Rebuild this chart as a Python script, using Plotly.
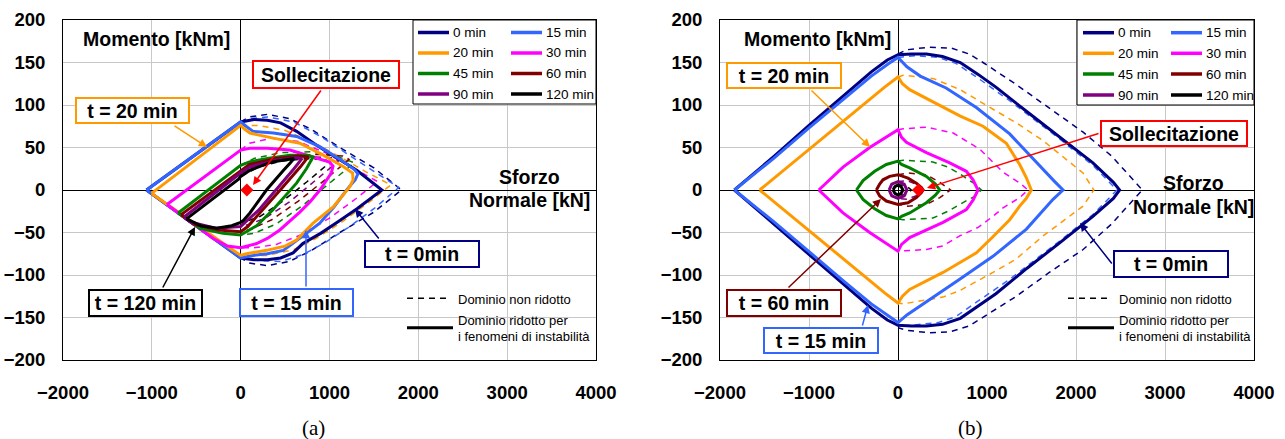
import plotly.graph_objects as go

# ------------------------------------------------------------------
# Interaction domains N [kN] - M [kNm] for several fire exposure times
# ------------------------------------------------------------------
TIME_LABELS = ["0 min", "15 min", "20 min", "30 min", "45 min", "60 min", "90 min", "120 min"]

# ---- (a) reduced domains (solid) ----
A_RED_0 = [(-1060, 0), (0, 80), (150, 83), (300, 82), (450, 79), (630, 69), (850, 53), (1100, 37), (1310, 23),
           (1590, 0), (1310, -22), (1100, -37), (900, -51), (700, -63), (590, -74), (450, -80), (300, -82),
           (150, -82), (0, -80), (-1060, 0)]
A_RED_15 = [(-1060, 0), (0, 80), (60, 75), (140, 69), (370, 67), (630, 63), (890, 51), (1120, 36), (1280, 24),
            (1320, 19), (1290, 12), (1200, 1), (1050, -20), (890, -39), (740, -51), (600, -62), (480, -71),
            (300, -75), (140, -77), (0, -80), (-1060, 0)]
A_RED_20 = [(-1003, -4), (0, 76), (40, 72), (104, 67), (366, 61), (666, 55), (929, 41), (1150, 28), (1260, 20),
            (1265, 12), (1229, 4), (1042, -20), (816, -39), (629, -59), (500, -66), (291, -71), (66, -75),
            (0, -77), (-1003, -4)]
A_RED_30 = [(-830, -17), (0, 47), (104, 49), (300, 49), (554, 47), (854, 38), (1000, 33), (1040, 28), (1020, 20),
            (892, 0), (780, -14), (666, -26), (441, -47), (300, -57), (179, -63), (0, -68), (-150, -66),
            (-309, -57), (-830, -17)]
A_RED_45 = [(-704, -27), (0, 29), (100, 33), (300, 37), (554, 41), (750, 41), (816, 39), (740, 25), (629, 8),
            (366, -23), (180, -42), (104, -47), (0, -53), (-200, -51), (-459, -45), (-704, -27)]
A_RED_60 = [(-670, -29), (0, 23), (100, 30), (400, 37), (650, 40), (760, 39), (670, 27), (470, 3), (260, -22),
            (80, -43), (0, -49), (-250, -47), (-530, -40), (-670, -29)]
A_RED_90 = [(-640, -32), (0, 20), (100, 27), (400, 35), (620, 38), (690, 37), (600, 25), (400, 0), (200, -24),
            (50, -38), (0, -43), (-280, -45), (-560, -38), (-640, -32)]
A_RED_120 = [(-610, -34), (-20, 13), (0, 16), (100, 23), (350, 33), (520, 36), (600, 37), (560, 32), (480, 23),
             (290, 0), (104, -27), (30, -36), (0, -38), (-100, -42), (-270, -45), (-450, -42), (-610, -34)]

# ---- (a) non-reduced domains (dashed, compression side) ----
A_FULL_0 = [(0, 80), (100, 86), (300, 89), (550, 84), (800, 71), (1100, 51), (1500, 26), (1810, 0), (1500, -26),
            (1100, -51), (800, -71), (550, -84), (300, -89), (100, -86), (0, -80)]
A_FULL_15 = [(0, 80), (100, 84), (300, 86), (600, 80), (900, 63), (1200, 43), (1500, 22), (1780, 3), (1500, -22),
             (1200, -45), (950, -62), (700, -76), (450, -84), (200, -83), (0, -80)]
A_FULL_20 = [(0, 76), (200, 76), (500, 70), (800, 57), (1100, 40), (1400, 22), (1690, 6), (1450, -14), (1150, -37),
             (850, -57), (600, -70), (300, -77), (0, -77)]
A_FULL_30 = [(0, 47), (100, 55), (350, 61), (650, 57), (950, 44), (1250, 27), (1540, 10), (1300, -10), (1000, -33),
             (700, -52), (400, -64), (150, -68), (0, -68)]
A_FULL_45 = [(0, 29), (150, 37), (450, 44), (800, 45), (1100, 39), (1280, 32), (1000, 8), (700, -18), (400, -40),
             (150, -51), (0, -53)]
A_FULL_60 = [(0, 23), (200, 33), (500, 39), (850, 42), (1150, 40), (1220, 36), (950, 12), (650, -13), (350, -35),
             (120, -46), (0, -49)]
A_FULL_90 = [(0, 20), (200, 30), (500, 36), (800, 39), (1050, 38), (1100, 34), (850, 12), (550, -14), (280, -33),
             (80, -41), (0, -43)]
A_FULL_120 = [(0, 16), (200, 27), (450, 34), (750, 37), (950, 36), (1000, 32), (750, 10), (450, -15), (220, -31),
              (60, -37), (0, -38)]

# ---- (b) reduced domains (solid) ----
B_RED_0 = [(-1838, 0), (-1400, 39), (-1000, 76), (-600, 112), (-300, 139), (-120, 153), (0, 159), (150, 160),
           (320, 160), (500, 157), (700, 150), (900, 136), (1100, 121), (1450, 92), (1820, 62), (2190, 32),
           (2420, 9), (2490, 0), (2420, -10), (2190, -31), (1820, -62), (1450, -92), (1100, -122), (900, -137),
           (700, -151), (500, -158), (320, -160), (150, -160), (0, -159), (-120, -153), (-300, -139),
           (-600, -112), (-1000, -76), (-1400, -39), (-1838, 0)]
B_RED_15 = [(-1838, 0), (-1400, 37), (-1000, 73), (-600, 108), (-300, 134), (-100, 149), (0, 156), (100, 145),
            (250, 134), (540, 120), (880, 97), (1255, 66), (1555, 32), (1750, 11), (1854, 0), (1742, -11),
            (1443, -46), (1067, -78), (693, -105), (319, -132), (100, -147), (0, -156), (-100, -149),
            (-300, -134), (-600, -108), (-1000, -73), (-1400, -37), (-1838, 0)]
B_RED_20 = [(-1554, 0), (-1000, 48), (-500, 91), (-150, 121), (0, 133), (50, 125), (131, 118), (393, 104),
            (581, 94), (700, 87), (955, 75), (1217, 55), (1367, 30), (1440, 15), (1498, 0), (1440, -10),
            (1367, -19), (1255, -35), (1067, -55), (881, -74), (506, -97), (131, -117), (50, -125), (0, -133),
            (-150, -121), (-500, -91), (-1000, -48), (-1554, 0)]
B_RED_30 = [(-890, 0), (-618, 27), (-318, 50), (-56, 68), (0, 71), (40, 62), (94, 56), (319, 44), (581, 32),
            (768, 22), (843, 12), (899, 0), (843, -12), (768, -23), (506, -38), (131, -56), (40, -64), (0, -72),
            (-56, -68), (-318, -50), (-618, -27), (-890, 0)]
B_RED_45 = [(-467, 0), (-393, 11), (-262, 22), (-131, 30), (0, 34), (40, 30), (131, 26), (319, 16), (420, 7),
            (468, 0), (420, -6), (319, -15), (131, -27), (40, -31), (0, -34), (-131, -30), (-262, -22),
            (-393, -11), (-467, 0)]
B_RED_60 = [(-243, 0), (-206, 7), (-169, 12), (-94, 16), (0, 18), (112, 14), (206, 8), (263, 3), (281, 0),
            (263, -3), (206, -9), (112, -15), (0, -17), (-131, -13), (-206, -7), (-243, 0)]
B_RED_90 = [(-100, 0), (-70, 7), (0, 10), (70, 7), (100, 0), (70, -7), (0, -10), (-70, -7), (-100, 0)]
B_RED_120 = [(-55, 0), (-35, 4), (0, 6), (35, 4), (55, 0), (35, -4), (0, -6), (-35, -4), (-55, 0)]

# ---- (b) non-reduced domains (dashed, compression side) ----
B_FULL_0 = [(0, 160), (100, 165), (350, 168), (600, 167), (800, 160), (955, 150), (1330, 124), (1700, 96),
            (2080, 68), (2400, 40), (2640, 12), (2746, 0), (2640, -12), (2400, -40), (2080, -70), (1700, -97),
            (1330, -125), (955, -150), (800, -160), (581, -167), (350, -168), (100, -165), (0, -162)]
B_FULL_15 = [(0, 156), (200, 158), (450, 156), (650, 149), (881, 133), (1255, 105), (1817, 60), (2200, 28),
             (2460, 0), (2200, -28), (1817, -60), (1255, -105), (881, -132), (650, -149), (450, -156),
             (200, -159), (56, -160), (0, -157)]
B_FULL_20 = [(0, 133), (60, 135), (400, 131), (700, 118), (1067, 95), (1330, 79), (1630, 58), (2079, 20),
             (2200, 0), (2079, -19), (1630, -54), (1330, -81), (1067, -97), (700, -118), (506, -126),
             (56, -134), (0, -133)]
B_FULL_30 = [(0, 71), (60, 72), (320, 74), (620, 67), (920, 48), (1070, 32), (1180, 21), (1370, 8), (1460, 0),
             (1367, -9), (1180, -21), (1067, -31), (900, -44), (693, -54), (500, -66), (319, -70), (56, -72),
             (0, -72)]
B_FULL_45 = [(0, 34), (60, 35), (390, 33), (560, 27), (693, 19), (850, 8), (937, 0), (850, -8), (693, -17),
             (560, -25), (393, -33), (56, -35), (0, -34)]
B_FULL_60 = [(0, 18), (112, 20), (319, 18), (470, 9), (590, 0), (470, -9), (319, -17), (112, -19), (0, -17)]
B_FULL_90 = [(0, 10), (100, 11), (200, 7), (260, 0), (200, -7), (100, -11), (0, -10)]
B_FULL_120 = [(0, 6), (80, 6), (150, 0), (80, -6), (0, -6)]

# design load ("Sollecitazione") for each section
LOAD_A = (70, 0)
LOAD_B = (230, 0)

A_RED = [A_RED_0, A_RED_15, A_RED_20, A_RED_30, A_RED_45, A_RED_60, A_RED_90, A_RED_120]
A_FULL = [A_FULL_0, A_FULL_15, A_FULL_20, A_FULL_30, A_FULL_45, A_FULL_60, A_FULL_90, A_FULL_120]
B_RED = [B_RED_0, B_RED_15, B_RED_20, B_RED_30, B_RED_45, B_RED_60, B_RED_90, B_RED_120]
B_FULL = [B_FULL_0, B_FULL_15, B_FULL_20, B_FULL_30, B_FULL_45, B_FULL_60, B_FULL_90, B_FULL_120]

# ---- styling ----
COLORS = ["#000080", "#3366FF", "#FF9900", "#FF00FF", "#008000", "#800000", "#800080", "#000000"]
FONT = "Liberation Sans, Arial, sans-serif"
W, H = 1285, 439


def px(x):
    return x / W


def py(y):
    return 1 - y / H


fig = go.Figure()

for xa, ya, red, full in (("x", "y", A_RED, A_FULL), ("x2", "y2", B_RED, B_FULL)):
    for pts, col in zip(full, COLORS):
        fig.add_trace(go.Scatter(x=[p[0] for p in pts], y=[p[1] for p in pts], mode="lines",
                                 line=dict(color=col, width=1.5, dash="6px,5px"),
                                 xaxis=xa, yaxis=ya, showlegend=False, hoverinfo="skip"))
    for pts, col, name in zip(red, COLORS, TIME_LABELS):
        fig.add_trace(go.Scatter(x=[p[0] for p in pts], y=[p[1] for p in pts], mode="lines", name=name,
                                 line=dict(color=col, width=3),
                                 xaxis=xa, yaxis=ya, showlegend=False))

for xa, ya, load in (("x", "y", LOAD_A), ("x2", "y2", LOAD_B)):
    fig.add_trace(go.Scatter(x=[load[0]], y=[load[1]], mode="markers", xaxis=xa, yaxis=ya,
                             marker=dict(symbol="diamond", size=10, color="#FF0000"), showlegend=False))

axis_common = dict(showgrid=True, gridcolor="#c8c8c8", gridwidth=1, automargin=False,
                   zeroline=True, zerolinecolor="black", zerolinewidth=1,
                   showline=True, linecolor="black", linewidth=1, mirror=True, ticks="",
                   tickfont=dict(family=FONT, size=18.5, color="black", weight="bold"))

xa_kw = dict(axis_common, range=[-2000, 4000], dtick=1000, tick0=0, ticklabelstandoff=16)
ya_kw = dict(axis_common, range=[-200, 200], dtick=50, tick0=0, ticklabelstandoff=13)

fig.update_layout(
    width=W, height=H, margin=dict(l=0, r=0, t=0, b=0, autoexpand=False),
    paper_bgcolor="white", plot_bgcolor="white",
    font=dict(family=FONT, color="black"),
    xaxis=dict(xa_kw, domain=[63 / W, 596 / W], anchor="y"),
    yaxis=dict(ya_kw, domain=[1 - 360 / H, 1 - 20 / H], anchor="x"),
    xaxis2=dict(xa_kw, domain=[720 / W, 1254 / W], anchor="y2"),
    yaxis2=dict(ya_kw, domain=[1 - 360 / H, 1 - 20 / H], anchor="x2"),
)


def text(x, y, s, size=19.5, bold=True, xanchor="center", family=FONT):
    fig.add_annotation(xref="paper", yref="paper", x=px(x), y=py(y), text=s, showarrow=False,
                       xanchor=xanchor, yanchor="middle",
                       font=dict(family=family, size=size, color="black", weight="bold" if bold else "normal"))


def box(s, x0, y0, x1, y1, color):
    fig.add_annotation(xref="paper", yref="paper", x=px((x0 + x1) / 2), y=py((y0 + y1) / 2), text=s,
                       showarrow=False, xanchor="center", yanchor="middle",
                       font=dict(family=FONT, size=19.5, color="black", weight="bold"),
                       bordercolor=color, borderwidth=2, borderpad=0, bgcolor="white",
                       width=x1 - x0 - 4, height=y1 - y0 - 4)


def arrow(tip, tail, color):
    fig.add_annotation(xref="paper", yref="paper", x=px(tip[0]), y=py(tip[1]), text="",
                       showarrow=True, ax=tail[0] - tip[0], ay=tail[1] - tip[1],
                       arrowhead=2, arrowsize=1.1, arrowwidth=1.5, arrowcolor=color,
                       standoff=0, startstandoff=0)


def time_legend(x0, y0, x1, y1, c1, c2, rows):
    fig.add_shape(type="rect", xref="paper", yref="paper", x0=px(x0), x1=px(x1), y0=py(y1), y1=py(y0),
                  line=dict(color="black", width=1), fillcolor="white", layer="above")
    for i, (name, col) in enumerate(zip(TIME_LABELS, COLORS)):
        cx = c1 if i % 2 == 0 else c2
        yy = rows[i // 2]
        fig.add_shape(type="line", xref="paper", yref="paper", x0=px(cx), x1=px(cx + 31), y0=py(yy), y1=py(yy),
                      line=dict(color=col, width=3.5), layer="above")
        text(cx + 33, yy, name, size=13.5, bold=False, xanchor="left")


def style_legend(xl, yd, ys):
    fig.add_shape(type="line", xref="paper", yref="paper", x0=px(xl), x1=px(xl + 41), y0=py(yd), y1=py(yd),
                  line=dict(color="black", width=1.5, dash="6px,5px"), layer="above")
    fig.add_shape(type="line", xref="paper", yref="paper", x0=px(xl), x1=px(xl + 46), y0=py(ys), y1=py(ys),
                  line=dict(color="black", width=3), layer="above")
    text(xl + 49, yd + 1, "Dominio non ridotto", size=13, bold=False, xanchor="left")
    text(xl + 49, ys - 7, "Dominio ridotto per", size=13, bold=False, xanchor="left")
    text(xl + 49, ys + 9, "i fenomeni di instabilità", size=13, bold=False, xanchor="left")


# ---- panel (a) decorations ----
text(156, 39, "Momento [kNm]")
text(529, 177, "Sforzo")
text(529, 200, "Normale [kN]")
time_legend(413, 20, 596, 104, 418, 511, [32.5, 53, 73.5, 94])
style_legend(407, 298.3, 327.7)
arrow((253, 185), (322, 89), "#FF0000")
arrow((207, 147), (173, 125), "#FF9900")
arrow((195, 227), (162, 289), "#000000")
arrow((306, 230), (306, 288), "#3366FF")
arrow((355, 209), (380, 240), "#000080")
box("Sollecitazione", 252, 60, 400, 89, "#FF0000")
box("t = 20 min", 75, 97, 190, 124, "#FF9900")
box("t = 120 min", 88, 289, 203, 317, "#000000")
box("t = 15 min", 239, 288, 354, 317, "#3366FF")
box("t = 0min", 364, 240, 480, 268, "#000080")
text(313, 428, "(a)", size=21, bold=False, family="Liberation Serif, Times New Roman, serif")

# ---- panel (b) decorations ----
text(817, 39, "Momento [kNm]")
text(1193, 183, "Sforzo")
text(1193, 207, "Normale [kN]")
time_legend(1077, 20, 1254, 105, 1083, 1171, [32.7, 53.3, 74, 95])
style_legend(1068, 298.3, 327.7)
arrow((927, 188), (1100, 133), "#FF0000")
arrow((870, 147), (810, 89), "#FF9900")
arrow((881, 199), (787, 289), "#800000")
arrow((868, 305), (862, 327), "#3366FF")
arrow((1080, 223), (1113, 265), "#000080")
box("Sollecitazione", 1100, 120, 1248, 147, "#FF0000")
box("t = 20 min", 726, 62, 842, 89, "#FF9900")
box("t = 60 min", 726, 289, 842, 317, "#800000")
box("t = 15 min", 763, 327, 879, 354, "#3366FF")
box("t = 0min", 1113, 250, 1229, 278, "#000080")
text(970, 428, "(b)", size=21, bold=False, family="Liberation Serif, Times New Roman, serif")

fig.write_html("out.html")
